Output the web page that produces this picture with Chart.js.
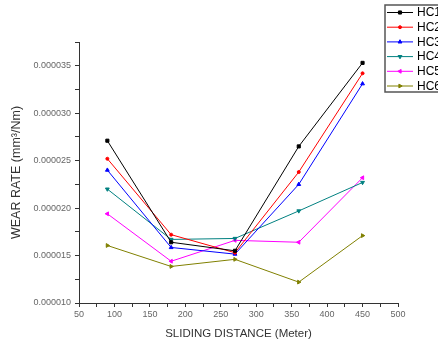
<!DOCTYPE html>
<html>
<head>
<meta charset="utf-8">
<script src="https://cdn.jsdelivr.net/npm/chart.js"></script>
<style>
  body { margin: 0; background: #fff; }
  #wrap { width: 438px; height: 342px; }
</style>
</head>
<body>
<div id="wrap"><canvas id="graphCanvas" width="438" height="342"></canvas></div>
<script>
// sliding distance (m)
const distance = [90, 180, 270, 360, 450];
// wear rate, mm^3/Nm
const hc1 = [27.1e-6, 16.4e-6, 15.5e-6, 26.5e-6, 35.3e-6];
const hc2 = [25.2e-6, 17.2e-6, 15.3e-6, 23.8e-6, 34.2e-6];
const hc3 = [24.0e-6, 15.85e-6, 15.15e-6, 22.5e-6, 33.1e-6];
const hc4 = [22.0e-6, 16.7e-6, 16.8e-6, 19.7e-6, 22.7e-6];
const hc5 = [19.4e-6, 14.4e-6, 16.6e-6, 16.4e-6, 23.2e-6];
const hc6 = [16.06e-6, 13.85e-6, 14.6e-6, 12.2e-6, 17.1e-6];

const seriesNames = ["HC1", "HC2", "HC3", "HC4", "HC5", "HC6"];
const seriesValues = [hc1, hc2, hc3, hc4, hc5, hc6];
const seriesColors = ["#000000", "#ff0000", "#0000ff", "#008080", "#ff00ff", "#808000"];
const seriesMarkers = ["rect", "circle", "triangle", "triangle", "triangle", "triangle"];
const markerRotation = [0, 0, 0, 180, -90, 90];

const fontFamily = "'Liberation Sans', Arial, sans-serif";

const datasets = seriesNames.map((name, i) => ({
  label: name,
  data: distance.map((d, j) => ({ x: d, y: seriesValues[i][j] })),
  borderColor: seriesColors[i],
  backgroundColor: seriesColors[i],
  borderWidth: 1,
  pointStyle: seriesMarkers[i],
  pointRotation: markerRotation[i],
  pointRadius: seriesMarkers[i] === "circle" ? 1.5 : 2.2,
  pointBorderWidth: 1,
  tension: 0,
  fill: false,
}));

// legend box drawn in the top right corner, like the original plot
const boxLegend = {
  id: "boxLegend",
  afterDraw(chart) {
    const ctx = chart.ctx;
    const x0 = 385, y0 = 5, rowH = 14.7;
    ctx.save();
    ctx.strokeStyle = "#555";
    ctx.lineWidth = 1.5;
    ctx.strokeRect(x0, y0, 80, 87);
    ctx.font = "12px " + fontFamily;
    ctx.textBaseline = "middle";
    chart.data.datasets.forEach((ds, i) => {
      const y = y0 + 7.5 + i * rowH;
      ctx.strokeStyle = ds.borderColor;
      ctx.lineWidth = 1;
      ctx.beginPath();
      ctx.moveTo(x0 + 2, y);
      ctx.lineTo(x0 + 28, y);
      ctx.stroke();
      ctx.fillStyle = ds.backgroundColor;
      Chart.helpers.drawPoint(ctx, {
        pointStyle: ds.pointStyle,
        rotation: ds.pointRotation,
        radius: ds.pointRadius,
        borderWidth: 1,
      }, x0 + 15, y);
      ctx.fillStyle = "#000";
      ctx.fillText(ds.label, x0 + 32, y + 0.5);
    });
    ctx.restore();
  },
};

const ctx = document.getElementById("graphCanvas").getContext("2d");
new Chart(ctx, {
  type: "line",
  data: { datasets: datasets },
  options: {
    responsive: false,
    animation: false,
    layout: { padding: { left: 0, right: 40, top: 42, bottom: 0 } },
    plugins: {
      legend: { display: false },
      tooltip: { enabled: false },
    },
    scales: {
      x: {
        type: "linear",
        min: 50,
        max: 500,
        afterFit: (scale) => { scale.height = 39; },
        ticks: {
          stepSize: 25, // minor ticks every 25, labels every 50
          autoSkip: false,
          maxRotation: 0,
          padding: 2,
          color: "#666",
          font: { family: fontFamily, size: 9 },
          callback: (v) => (v % 50 === 0 ? v : ""),
        },
        grid: { drawOnChartArea: false, tickLength: 4, tickColor: "#333" },
        border: { color: "#333", width: 1 },
        title: {
          display: true,
          text: "SLIDING DISTANCE (Meter)",
          color: "#333",
          font: { family: fontFamily, size: 11.5 },
          padding: { top: 0, bottom: 1 },
        },
      },
      y: {
        min: 0.00001,
        max: 0.0000375,
        afterFit: (scale) => { scale.width = 79; },
        ticks: {
          stepSize: 0.0000025,
          autoSkip: false,
          padding: 4,
          color: "#666",
          font: { family: fontFamily, size: 9 },
          callback: (v) => (Math.round(v * 1e7) % 50 === 0 ? v.toFixed(6) : ""),
        },
        grid: { drawOnChartArea: false, tickLength: 4, tickColor: "#333" },
        border: { color: "#333", width: 1 },
        title: {
          display: true,
          text: "WEAR RATE (mm³/Nm)",
          color: "#333",
          font: { family: fontFamily, size: 12.5 },
          padding: { top: 9, bottom: 0 },
        },
      },
    },
  },
  plugins: [boxLegend],
});
</script>
</body>
</html>
